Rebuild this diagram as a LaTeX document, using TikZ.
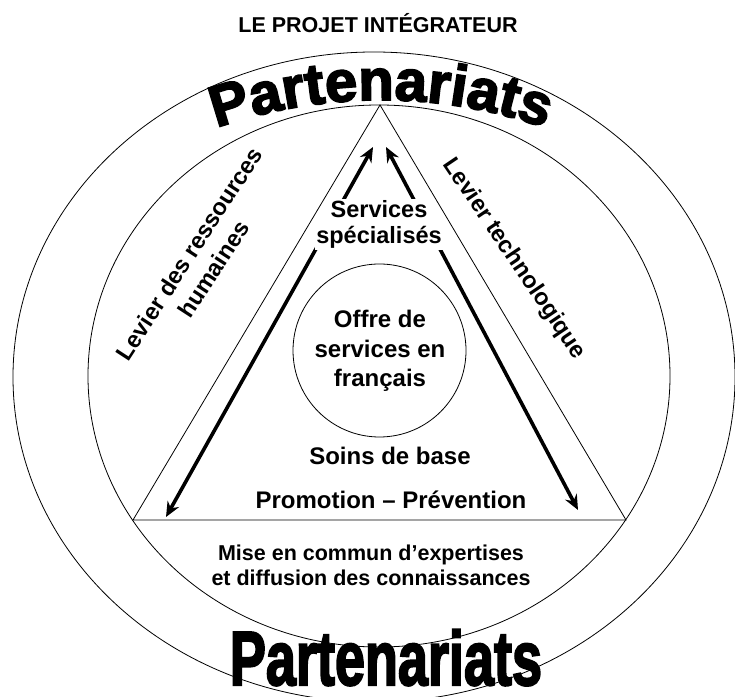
\documentclass[tikz,border=0pt]{standalone}
\usepackage{fontspec}
\setmainfont{Liberation Sans}
\newfontfamily\heavyfont{Liberation Sans Bold}[FakeBold=3]
\usetikzlibrary{arrows.meta,decorations.text}

\begin{document}
\begin{tikzpicture}[x=1pt,y=1pt,
  thinline/.style={line width=0.8pt},
  arrowline/.style={line width=3.6pt,
    {Stealth[length=15pt,width=13pt,inset=5pt]}-{Stealth[length=15pt,width=13pt,inset=5pt]}},
  lbl/.style={font=\bfseries\fontsize{24}{29.5}\selectfont, align=center, inner sep=0pt},
  smalllbl/.style={font=\bfseries\fontsize{21.5}{25}\selectfont, align=center, inner sep=0pt},
  sidelbl/.style={font=\bfseries\fontsize{23.5}{29}\selectfont, align=center, inner sep=0pt},
]
\useasboundingbox (0,0) rectangle (735,696);

% title
\node[font=\bfseries\fontsize{21.5}{25}\selectfont] (title) at (378,673) {LE PROJET INTÉGRATEUR};

% outer and inner rings
\draw[thinline] (374,319) ellipse[x radius=361, y radius=325];
\draw[thinline] (379,320) ellipse[x radius=291, y radius=271];

% central circle with its label
\draw[thinline] (379.5,345.5) circle[radius=86.5];
\node[lbl] (offre) at (380,345) {Offre de\\services en\\français};

% double-headed arrows along the triangle sides
\coordinate (ltop) at (373,549);
\coordinate (lbot) at (166,179);
\coordinate (rtop) at (386,549);
\coordinate (rbot) at (578,186);
\draw[arrowline] (ltop) -- (lbot);
\draw[arrowline] (rtop) -- (rbot);

% label at the apex, masking the arrows
\node[lbl, fill=white, inner sep=1.5pt, font=\bfseries\fontsize{23.5}{26.5}\selectfont]
  (spec) at (379,471.5) {Services\\spécialisés};

% triangle
\coordinate (apex) at (380,591);
\coordinate (bl) at (133,176);
\coordinate (br) at (626,176);
\draw[thinline] (apex) -- (bl) -- (br) -- cycle;

% labels inside the triangle
\node[lbl, anchor=base] (soins) at (390,231) {Soins de base};
\node[lbl, anchor=base] (promo) at (391,188) {Promotion – Prévention};

% label under the triangle
\node[smalllbl] (mise) at (371,131) {Mise en commun d’expertises\\et diffusion des connaissances};

% side labels
\node[sidelbl, rotate=57] (rh) at (201.5,434.5) {Levier des ressources\\humaines};
\node[sidelbl, rotate=-56] (techno) at (514,437) {Levier technologique};

% arched word at the top
\path[decorate, decoration={text along path, text align=center,
  text={|\heavyfont\fontsize{58}{58}\selectfont|Partenariats}}]
  (381,96) ++(115:500) arc[start angle=115, end angle=65, radius=500];

% stretched word at the bottom
\node[anchor=base, inner sep=0pt] (part2) at (386,11)
  {\scalebox{1}[1.42]{\heavyfont\fontsize{54}{54}\selectfont Partenariats}};
\end{tikzpicture}
\end{document}
